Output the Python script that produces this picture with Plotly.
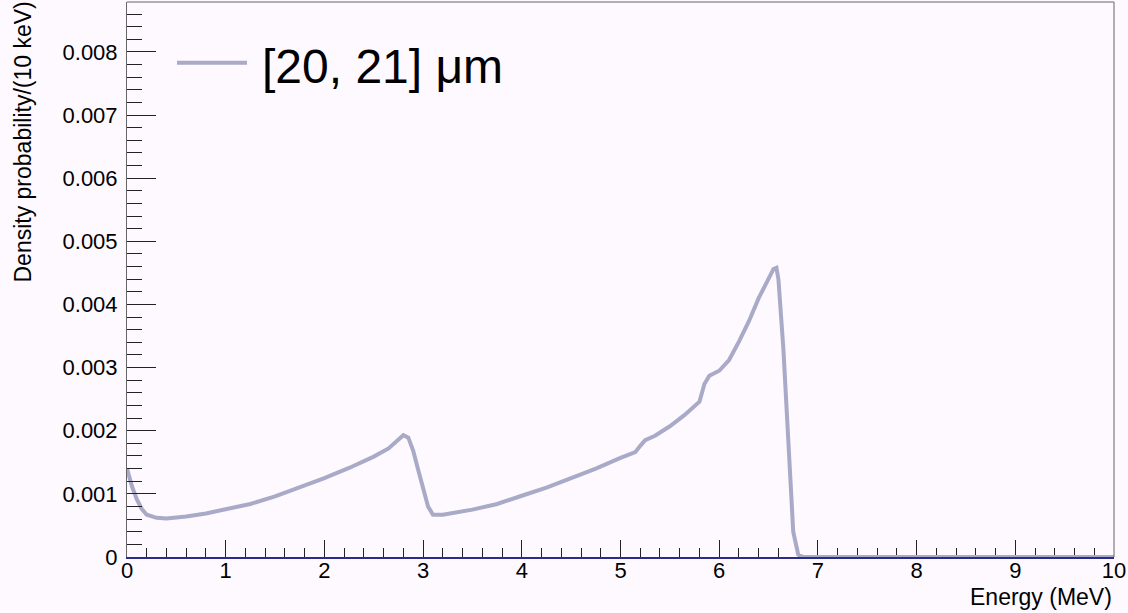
import plotly.graph_objects as go

# Data (energy in MeV, density probability per 10 keV)
energy = [0.0, 0.05, 0.1, 0.15, 0.2, 0.3, 0.4, 0.6, 0.8, 1.0, 1.25, 1.5, 1.75, 2.0, 2.25, 2.5,
          2.65, 2.75, 2.8, 2.85, 2.9, 2.95, 3.0, 3.05, 3.1, 3.2, 3.5, 3.75, 4.0, 4.25, 4.5, 4.75,
          5.0, 5.1, 5.15, 5.2, 5.25, 5.35, 5.5, 5.65, 5.75, 5.8, 5.85, 5.9, 6.0, 6.1, 6.2, 6.3,
          6.4, 6.5, 6.55, 6.58, 6.6, 6.65, 6.7, 6.75, 6.8, 6.85, 7.0, 8.0, 9.0, 10.0]
density = [0.00140, 0.00112, 0.00091, 0.00076, 0.00067, 0.00062, 0.00061, 0.00064, 0.00069, 0.00075,
           0.00084, 0.00096, 0.00110, 0.00125, 0.00141, 0.00159, 0.00172, 0.00186, 0.00193, 0.00189,
           0.00168, 0.00138, 0.00106, 0.00080, 0.00067, 0.00067, 0.00075, 0.00084, 0.00097, 0.00110,
           0.00125, 0.00140, 0.00157, 0.00162, 0.00166, 0.00176, 0.00185, 0.00192, 0.00207, 0.00225,
           0.00238, 0.00246, 0.00274, 0.00287, 0.00295, 0.00312, 0.00341, 0.00373, 0.00410, 0.00440,
           0.00456, 0.00458, 0.00440, 0.00330, 0.00170, 0.00040, 0.00004, 0.0, 0.0, 0.0, 0.0, 0.0]

x_ticks = [0, 1, 2, 3, 4, 5, 6, 7, 8, 9, 10]
x_labels = ["0", "1", "2", "3", "4", "5", "6", "7", "8", "9", "10"]
y_ticks = [0, 0.001, 0.002, 0.003, 0.004, 0.005, 0.006, 0.007, 0.008]
y_labels = ["0", "0.001", "0.002", "0.003", "0.004", "0.005", "0.006", "0.007", "0.008"]
series_name = "[20, 21] μm"

LINE = "#a9a9c8"
BG = "#fef9fe"
FONT = "Liberation Sans, Arial, Helvetica, sans-serif"

fig = go.Figure()
fig.add_trace(go.Scatter(x=energy, y=density, mode="lines", name=series_name,
                         line=dict(color=LINE, width=4), showlegend=False))

fig.update_layout(
    width=1128, height=613,
    margin=dict(l=127, r=14, t=2, b=56),
    paper_bgcolor=BG, plot_bgcolor=BG,
    font=dict(family=FONT, color="black", size=22),
    showlegend=False,
)
fig.update_xaxes(
    range=[0, 10], tickvals=x_ticks, ticktext=x_labels,
    ticks="inside", ticklen=17, tickwidth=1, tickcolor="#222",
    minor=dict(ticks="inside", ticklen=9, dtick=0.2, tickcolor="#222", tickwidth=1),
    showgrid=False, zeroline=False,
    showline=True, linecolor="#2b2b8c", linewidth=2, layer="below traces",
    tickfont=dict(size=22, family=FONT), ticklabelstandoff=-7,
)
fig.update_yaxes(
    range=[0, 0.00879], tickvals=y_ticks, ticktext=y_labels,
    ticks="inside", ticklen=29, tickwidth=1, tickcolor="#222",
    minor=dict(ticks="inside", ticklen=15, dtick=0.0002, tickcolor="#222", tickwidth=1),
    showgrid=False, zeroline=False,
    showline=True, linecolor="#666", linewidth=1, mirror=False,
    tickfont=dict(size=22, family=FONT), ticklabelstandoff=4,
)

# frame (top and right edges)
fig.add_shape(type="line", xref="paper", yref="paper", x0=0, x1=1, y0=1, y1=1,
              line=dict(color="#666", width=1))
fig.add_shape(type="line", xref="paper", yref="paper", x0=1, x1=1, y0=0, y1=1,
              line=dict(color="#666", width=1))

# legend entry
fig.add_shape(type="line", xref="paper", yref="paper",
              x0=(177 - 127) / 987, x1=(247 - 127) / 987,
              y0=(557 - 62.7) / 555, y1=(557 - 62.7) / 555,
              line=dict(color=LINE, width=4))
fig.add_annotation(text=series_name, xref="paper", yref="paper",
                   x=(260 - 127) / 987, y=(557 - 66) / 555, xanchor="left", yanchor="middle",
                   showarrow=False, font=dict(size=48, family=FONT, color="black"))

# axis titles
fig.add_annotation(text="Energy (MeV)", xref="paper", yref="paper",
                   x=1.0, y=(557 - 597) / 555, xanchor="right", yanchor="middle",
                   showarrow=False, font=dict(size=23, family=FONT))
fig.add_annotation(text="Density probability/(10 keV)", xref="paper", yref="paper",
                   x=(22 - 127) / 987, y=(557 - 0) / 555, xanchor="center", yanchor="top",
                   textangle=-90, showarrow=False, font=dict(size=23, family=FONT))

fig.write_html("out.html")
